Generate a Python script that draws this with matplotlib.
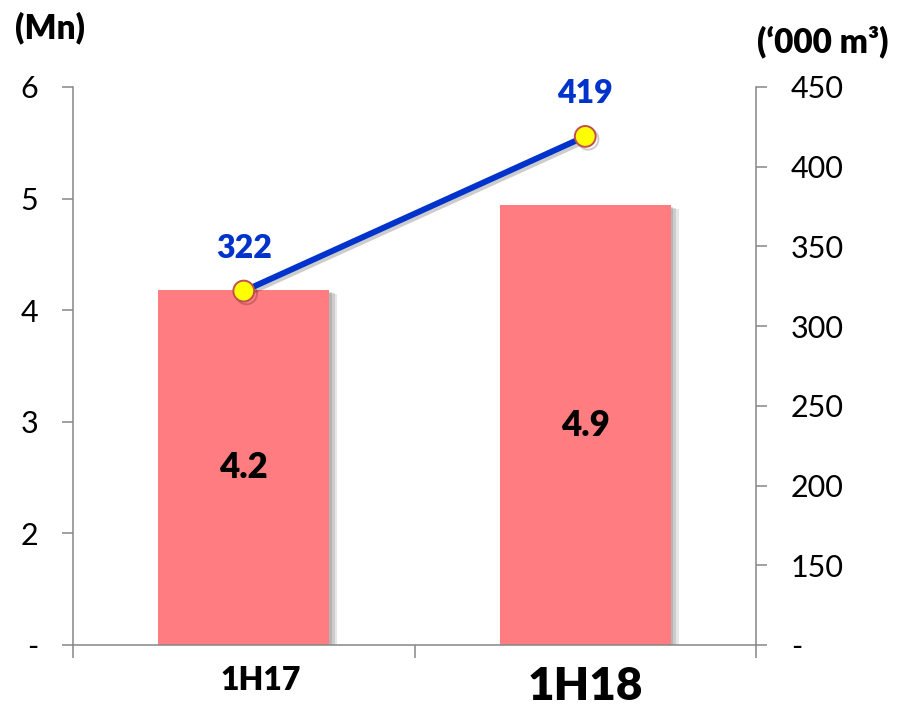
import matplotlib
matplotlib.use("Agg")
import matplotlib.pyplot as plt
import matplotlib.patheffects as pe
from matplotlib.transforms import ScaledTranslation

plt.rcParams['font.family'] = ['Lato', 'DejaVu Sans']

categories = ["1H17", "1H18"]
bar_values = [4.18, 4.94]          # Mn (left axis)
bar_labels = ["4.2", "4.9"]
line_values = [322, 419]           # '000 m3 (right axis)
left_ticks = [1, 2, 3, 4, 5, 6]
left_tick_labels = ["-", "2", "3", "4", "5", "6"]
right_ticks = [100, 150, 200, 250, 300, 350, 400, 450]
right_tick_labels = ["-", "150", "200", "250", "300", "350", "400", "450"]

bar_color = "#FF7C80"
line_color = "#0033CC"
axis_gray = "#868686"
BW = 800

fig = plt.figure(figsize=(9, 7.12), dpi=100)
ax = fig.add_axes([73/900, 1-645/712, (756-73)/900, (645-87)/712])
x = list(range(len(categories)))

shadow = [pe.SimplePatchShadow(offset=(6, -3), shadow_rgbFace="#7f7f7f", alpha=0.18),
          pe.SimplePatchShadow(offset=(4, -2), shadow_rgbFace="#7f7f7f", alpha=0.25),
          pe.SimplePatchShadow(offset=(2, -1), shadow_rgbFace="#7f7f7f", alpha=0.3),
          pe.Normal()]
bars = ax.bar(x, [v - left_ticks[0] for v in bar_values], bottom=left_ticks[0],
              width=0.5, color=bar_color, zorder=2)
for b in bars:
    b.set_path_effects(shadow)

for xi, v, lab in zip(x, bar_values, bar_labels):
    ax.text(xi, (v + left_ticks[0]) / 2, lab, ha="center", va="center",
            fontsize=25, fontweight=BW, color="black", zorder=3)

ax.set_xlim(-0.5, len(categories) - 0.5)
ax.set_ylim(left_ticks[0], left_ticks[-1])
ax.set_yticks(left_ticks, left_tick_labels)
ax.set_xticks(x, categories)
ax.set_xticks([-0.5, 0.5, 1.5], minor=True)
ax.tick_params(axis="x", which="major", length=0, pad=15)
ax.tick_params(axis="x", which="minor", length=9, width=1.1, color=axis_gray, direction="out")
ax.tick_params(axis="y", length=8, width=1.1, color=axis_gray, pad=17, labelsize=22)
for s in ["top", "right"]:
    ax.spines[s].set_visible(False)
for s in ["left", "bottom"]:
    ax.spines[s].set_color(axis_gray)
    ax.spines[s].set_linewidth(1.1)

xl = ax.get_xticklabels()
xl[0].set_fontsize(23)
xl[0].set_fontweight(BW)
xl[0].set_transform(xl[0].get_transform() + ScaledTranslation(0.17, 0, fig.dpi_scale_trans))
xl[1].set_fontsize(33)
xl[1].set_fontweight(BW)

ax2 = ax.twinx()
ax2.set_ylim(right_ticks[0], right_ticks[-1])
ax2.set_yticks(right_ticks, right_tick_labels)
ax2.tick_params(axis="y", length=8, width=1.1, color=axis_gray, pad=17, labelsize=22)
for s in ["top", "left", "bottom"]:
    ax2.spines[s].set_visible(False)
ax2.spines["right"].set_color(axis_gray)
ax2.spines["right"].set_linewidth(1.1)

ax2.plot(x, line_values, color=line_color, linewidth=4.3, marker="o", markersize=15,
         markerfacecolor="#FFFF00", markeredgecolor="#C0504D", markeredgewidth=1.4,
         zorder=5,
         path_effects=[pe.SimpleLineShadow(offset=(2, -2), alpha=0.2), pe.Normal()])
for xi, v in zip(x, line_values):
    ax2.annotate(str(v), (xi, v), xytext=(0, 31), textcoords="offset points",
                 ha="center", va="center", fontsize=23, fontweight=BW, color=line_color)

fig.text(50/900, 1-28/712, "(Mn)", ha="center", va="center", fontsize=24, fontweight=BW)
fig.text(823/900, 1-42/712, "(\u2018000 m\u00b3)", ha="center", va="center", fontsize=24, fontweight=BW)

fig.savefig("out.png", dpi=100)
